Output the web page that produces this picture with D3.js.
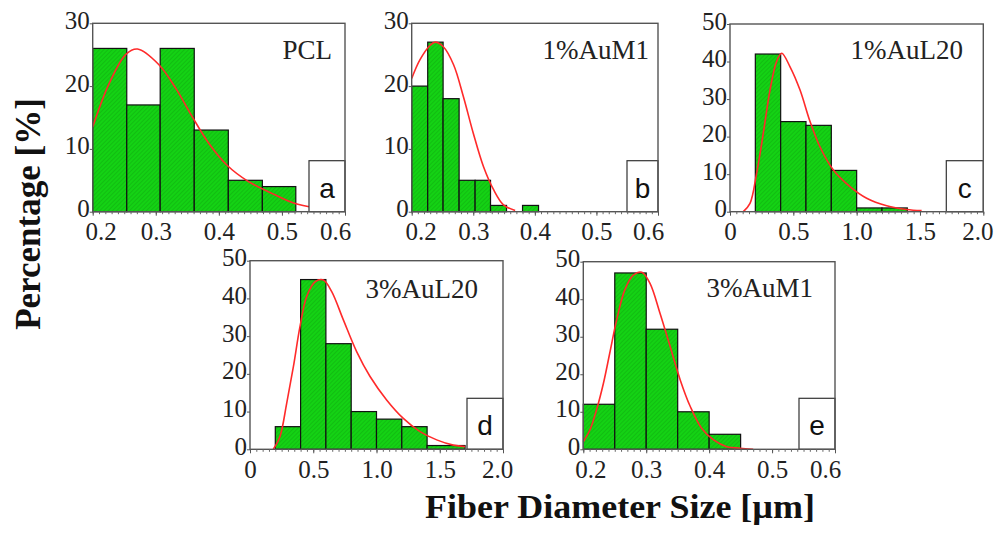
<!DOCTYPE html>
<html>
<head>
<meta charset="utf-8">
<script src="https://cdn.jsdelivr.net/npm/d3@7"></script>
<style>
  body { margin: 0; background: #fff; }
  svg { display: block; }
</style>
</head>
<body>
<script>
var width = 995;
var height = 545;

// tick values
var xTicksNarrow = [0.2, 0.3, 0.4, 0.5, 0.6];
var xTicksWide = [0, 0.5, 1.0, 1.5, 2.0];
var yTicks30 = [0, 10, 20, 30];
var yTicks50 = [0, 10, 20, 30, 40, 50];

// panel names
var names = ["PCL", "1%AuM1", "1%AuL20", "3%AuL20", "3%AuM1"];
var letters = ["a", "b", "c", "d", "e"];

// histogram bin edges and percentages
var edgesA = [0.2, 0.254, 0.307, 0.361, 0.415, 0.469, 0.522];
var countsA = [26, 17, 26, 13, 5, 4];
var edgesB = [0.2, 0.226, 0.251, 0.277, 0.303, 0.328, 0.354, 0.380, 0.406];
var countsB = [20, 27, 18, 5, 5, 1, 0, 1];
var edgesC = [0.2, 0.4, 0.6, 0.8, 1.0, 1.2, 1.4];
var countsC = [42, 24, 23, 11, 1, 1];
var edgesD = [0.2, 0.4, 0.6, 0.8, 1.0, 1.2, 1.4, 1.7];
var countsD = [6, 45, 28, 10, 8, 6, 1];
var edgesE = [0.2, 0.25, 0.3, 0.35, 0.4, 0.45];
var countsE = [12, 47, 32, 10, 4];

// fitted curves
var fitA = [[0.2,13.5],[0.226,20.4],[0.253,25.1],[0.271,25.9],[0.305,23.4],[0.332,19.6],[0.358,15.1],[0.384,10.9],[0.413,7.4],[0.447,4.8],[0.489,2.7],[0.521,1.3],[0.55,0.7],[0.6,0.3]];
var fitB = [[0.2,21.2],[0.2135,24.2],[0.23,26.5],[0.238,27],[0.251,26.3],[0.268,23.4],[0.284,18.3],[0.30,12.5],[0.3165,7.2],[0.333,3.5],[0.349,1.1],[0.368,0.2]];
var fitC = [[0.105,0],[0.158,2.2],[0.21,10.2],[0.263,20.9],[0.316,32.4],[0.368,40],[0.408,42.2],[0.474,38.6],[0.553,32.4],[0.632,24],[0.71,17.3],[0.816,11.1],[0.947,6.7],[1.079,3.6],[1.237,1.6],[1.395,0.6],[1.513,0.3]];
var fitD = [[0.184,0],[0.237,3.4],[0.29,12.2],[0.343,21.9],[0.395,32.5],[0.448,40.5],[0.514,44.4],[0.58,44.9],[0.646,41.8],[0.738,34.3],[0.843,25.9],[0.949,19.3],[1.08,13.1],[1.212,8.2],[1.344,4.7],[1.476,2.5],[1.607,1.1],[1.7,0.7]];
var fitE = [[0.2,2.0],[0.2106,5.2],[0.221,10.5],[0.232,17.6],[0.242,25.6],[0.253,34.5],[0.266,42.5],[0.2795,46.4],[0.293,47.2],[0.306,44.2],[0.322,36.2],[0.338,27.4],[0.354,18.5],[0.37,11.4],[0.388,5.6],[0.407,2.5],[0.428,0.7],[0.449,0.3],[0.47,0]];

// layout of each panel (pixels)
var panels = [
  {left: 92.7, right: 345, top: 23.3, bottom: 211.7, xDom: [0.2, 0.6], xTicks: xTicksNarrow, yMax: 30, yTicks: yTicks30,
   edges: edgesA, counts: countsA, fit: fitA, nameX: 332, nameY: 59, boxW: 36, endShift: [8, -10], minor: 0.01},
  {left: 411.7, right: 658, top: 23.3, bottom: 211.7, xDom: [0.2, 0.6], xTicks: xTicksNarrow, yMax: 30, yTicks: yTicks30,
   edges: edgesB, counts: countsB, fit: fitB, nameX: 649, nameY: 59, boxW: 31, endShift: [9, -10], minor: 0.01},
  {left: 730, right: 983.3, top: 24, bottom: 211.7, xDom: [0, 2], xTicks: xTicksWide, yMax: 50, yTicks: yTicks50,
   edges: edgesC, counts: countsC, fit: fitC, nameX: 963, nameY: 59, boxW: 37, endShift: [0, -6], minor: 0.05},
  {left: 250, right: 503, top: 260.7, bottom: 449.3, xDom: [0, 2], xTicks: xTicksWide, yMax: 50, yTicks: yTicks50,
   edges: edgesD, counts: countsD, fit: fitD, nameX: 478, nameY: 298, boxW: 36, endShift: [0, -6], minor: 0.05},
  {left: 583.3, right: 835, top: 261.7, bottom: 449.3, xDom: [0.2, 0.6], xTicks: xTicksNarrow, yMax: 50, yTicks: yTicks50,
   edges: edgesE, counts: countsE, fit: fitE, nameX: 813, nameY: 297, boxW: 36, endShift: [7, -10], minor: 0.01}
];

var svg = d3.select("body").append("svg")
    .attr("width", width)
    .attr("height", height);

svg.append("rect").attr("width", width).attr("height", height).attr("fill", "#fff");

// hatched green fill
var defs = svg.append("defs");
var pat = defs.append("pattern")
    .attr("id", "hatch")
    .attr("width", 3)
    .attr("height", 3)
    .attr("patternUnits", "userSpaceOnUse")
    .attr("patternTransform", "rotate(45)");
pat.append("rect").attr("width", 3).attr("height", 3).attr("fill", "#14d214");
pat.append("line").attr("x1", 0).attr("y1", 0).attr("x2", 0).attr("y2", 3)
    .attr("stroke", "#0fa80f").attr("stroke-width", 1);

var serif = "'Liberation Serif', 'Times New Roman', serif";
var sans = "'Liberation Sans', Arial, sans-serif";

panels.forEach(function(p, i) {
    var x = d3.scaleLinear().domain(p.xDom).range([p.left, p.right]);
    var y = d3.scaleLinear().domain([0, p.yMax]).range([p.bottom, p.top]);
    var g = svg.append("g");

    // bars
    var bins = p.counts.map(function(c, k) { return {x0: p.edges[k], x1: p.edges[k + 1], v: c}; })
        .filter(function(d) { return d.v > 0; });
    g.selectAll("rect.bar")
        .data(bins)
        .enter().append("rect")
        .attr("class", "bar")
        .attr("x", function(d) { return x(d.x0); })
        .attr("y", function(d) { return y(d.v); })
        .attr("width", function(d) { return x(d.x1) - x(d.x0); })
        .attr("height", function(d) { return y(0) - y(d.v); })
        .attr("fill", "url(#hatch)")
        .attr("stroke", "#111")
        .attr("stroke-width", 1.2);

    // fitted curve
    var line = d3.line()
        .x(function(d) { return x(d[0]); })
        .y(function(d) { return y(d[1]); })
        .curve(d3.curveCatmullRom);
    g.append("path")
        .datum(p.fit)
        .attr("d", line)
        .attr("fill", "none")
        .attr("stroke", "#ff2a2a")
        .attr("stroke-width", 1.6);

    // letter box
    g.append("rect")
        .attr("x", p.right - p.boxW)
        .attr("y", p.bottom - 51)
        .attr("width", p.boxW)
        .attr("height", 51)
        .attr("fill", "#fff")
        .attr("stroke", "#333")
        .attr("stroke-width", 1.2);
    g.append("text")
        .attr("x", p.right - p.boxW / 2)
        .attr("y", p.bottom - 14)
        .attr("text-anchor", "middle")
        .style("font-family", sans)
        .style("font-size", "28px")
        .attr("fill", "#111")
        .text(letters[i]);

    // frame
    g.append("rect")
        .attr("x", p.left).attr("y", p.top)
        .attr("width", p.right - p.left).attr("height", p.bottom - p.top)
        .attr("fill", "none")
        .attr("stroke", "#555")
        .attr("stroke-width", 1.4);

    // minor ticks on bottom axis
    var minorVals = d3.range(p.xDom[0], p.xDom[1] + 1e-9, p.minor);
    g.append("g")
        .attr("transform", "translate(0," + p.bottom + ")")
        .call(d3.axisBottom(x).tickValues(minorVals).tickSize(2.5).tickFormat(""))
        .call(function(a) { a.select(".domain").remove(); a.selectAll("line").attr("stroke", "#666"); });

    // bottom axis
    var xa = g.append("g")
        .attr("transform", "translate(0," + p.bottom + ")")
        .call(d3.axisBottom(x)
            .tickValues(p.xTicks)
            .tickSize(4)
            .tickPadding(7)
            .tickFormat(function(d) { return d === 0 ? "0" : d.toFixed(1); }));
    xa.select(".domain").remove();
    xa.selectAll("line").attr("stroke", "#555");
    xa.selectAll("text")
        .style("font-family", serif)
        .style("font-size", "25px")
        .attr("fill", "#222")
        .attr("dx", function(d, k) {
            if (k === 0) return p.endShift[0];
            if (k === p.xTicks.length - 1) return p.endShift[1];
            return 0;
        });

    // left axis
    var ya = g.append("g")
        .attr("transform", "translate(" + p.left + ",0)")
        .call(d3.axisLeft(y).tickValues(p.yTicks).tickSize(3).tickPadding(0));
    ya.select(".domain").remove();
    ya.selectAll("line").attr("stroke", "#555");
    ya.selectAll("text")
        .style("font-family", serif)
        .style("font-size", "25px")
        .attr("fill", "#222")
        .attr("dy", "0.2em");

    // panel name
    g.append("text")
        .attr("x", p.nameX)
        .attr("y", p.nameY)
        .attr("text-anchor", "end")
        .style("font-family", serif)
        .style("font-size", "27px")
        .attr("fill", "#222")
        .text(names[i]);
});

// axis titles
svg.append("text")
    .attr("transform", "translate(40,214) rotate(-90)")
    .attr("text-anchor", "middle")
    .style("font-family", serif)
    .style("font-weight", "bold")
    .style("font-size", "35px")
    .attr("fill", "#111")
    .text("Percentage [%]");

svg.append("text")
    .attr("x", 620)
    .attr("y", 518)
    .attr("text-anchor", "middle")
    .style("font-family", serif)
    .style("font-weight", "bold")
    .style("font-size", "33px")
    .attr("fill", "#111")
    .attr("textLength", 390)
    .attr("lengthAdjust", "spacingAndGlyphs")
    .text("Fiber Diameter Size [µm]");
</script>
</body>
</html>
